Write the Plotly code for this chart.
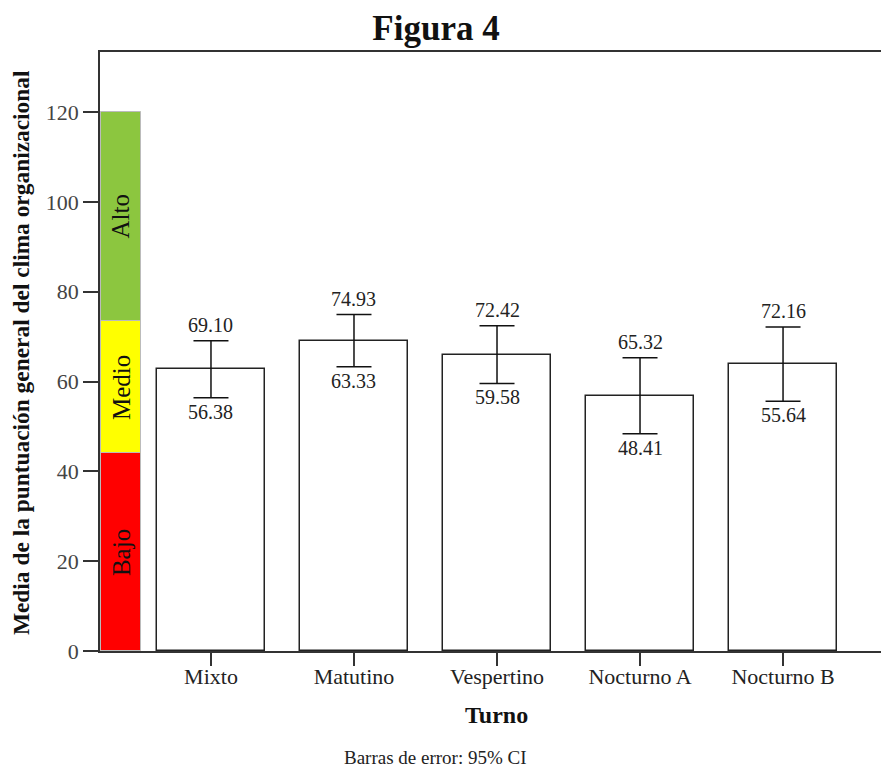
import plotly.graph_objects as go

categories = ["Mixto", "Matutino", "Vespertino", "Nocturno A", "Nocturno B"]
means = [62.74, 69.13, 66.00, 56.87, 63.90]
ci_upper = [69.10, 74.93, 72.42, 65.32, 72.16]
ci_lower = [56.38, 63.33, 59.58, 48.41, 55.64]

levels = ["Bajo", "Medio", "Alto"]
level_bounds = [0, 44, 73.5, 120]
level_colors = ["#ff0000", "#ffff00", "#8cc63f"]

y_ticks = [0, 20, 40, 60, 80, 100, 120]

FONT = "Liberation Serif"
positions = list(range(1, len(categories) + 1))
band_x = 0.37

fig = go.Figure()

# Colored level band
for i, lab in enumerate(levels):
    lo, hi = level_bounds[i], level_bounds[i + 1]
    fig.add_trace(go.Bar(
        x=[band_x], y=[hi - lo], base=[lo], width=0.28,
        marker=dict(color=level_colors[i], line=dict(color="#bbbbbb", width=1)),
        hoverinfo="skip", showlegend=False,
    ))
    fig.add_annotation(x=band_x, y=(lo + hi) / 2, text=lab, showarrow=False,
                       textangle=-90, xanchor="center", yanchor="middle",
                       font=dict(family=FONT, size=25, color="#111111"))

# Mean bars with 95% CI
fig.add_trace(go.Bar(
    x=positions, y=means, width=0.75,
    marker=dict(color="white", line=dict(color="#222222", width=1.5)),
    error_y=dict(
        type="data", symmetric=False,
        array=[u - m for u, m in zip(ci_upper, means)],
        arrayminus=[m - l for l, m in zip(ci_lower, means)],
        color="#111111", thickness=1.5, width=17.5,
    ),
    showlegend=False,
))

for p, u, l in zip(positions, ci_upper, ci_lower):
    fig.add_annotation(x=p, y=u, text=f"{u:.2f}", showarrow=False, yanchor="bottom",
                       yshift=3, font=dict(family=FONT, size=20, color="#222222"))
    fig.add_annotation(x=p, y=l, text=f"{l:.2f}", showarrow=False, yanchor="top",
                       yshift=-1, font=dict(family=FONT, size=20, color="#222222"))

W, H = 881, 767
fig.update_layout(
    width=W, height=H,
    margin=dict(l=100, r=0, t=52, b=116),
    paper_bgcolor="white", plot_bgcolor="white",
    barmode="overlay", bargap=0,
    title=dict(text="<b>Figura 4</b>", x=436 / W, xanchor="center", y=1 - 28 / H, yref="container",
               yanchor="middle", font=dict(family=FONT, size=35, color="#111111")),
    font=dict(family=FONT, color="#222222"),
)

fig.update_xaxes(
    range=[0.224, 5.685], tickvals=positions, ticktext=categories,
    showgrid=False, zeroline=False, automargin=False,
    showline=True, linecolor="#333333", linewidth=1.5, mirror=True,
    ticks="outside", ticklen=13, tickwidth=1.5, tickcolor="#333333",
    ticklabelstandoff=-8,
    tickfont=dict(family=FONT, size=22, color="#222222"),
)
fig.update_yaxes(
    range=[0, 133.4], tickvals=y_ticks,
    showgrid=False, zeroline=False, automargin=False,
    showline=True, linecolor="#333333", linewidth=1.5,
    ticks="outside", ticklen=15, tickwidth=1.5, tickcolor="#333333",
    tickfont=dict(family=FONT, size=22, color="#444444"),
)

# Axis titles and footnote
fig.add_annotation(text="<b>Media de la puntuación general del clima organizacional</b>",
                   xref="paper", yref="paper", x=-0.101, y=0.4975, textangle=-90,
                   showarrow=False, xanchor="center", yanchor="middle",
                   font=dict(family=FONT, size=23.4, color="#111111"))
fig.add_annotation(text="<b>Turno</b>", xref="paper", yref="paper", x=0.508, y=-0.107,
                   showarrow=False, xanchor="center", yanchor="middle",
                   font=dict(family=FONT, size=24, color="#111111"))
fig.add_annotation(text="Barras de error: 95% CI", xref="paper", yref="paper",
                   x=0.429, y=-0.177, showarrow=False, xanchor="center", yanchor="middle",
                   font=dict(family=FONT, size=19, color="#222222"))

fig.write_html("out.html", config={"displayModeBar": False},
               post_script="document.body.style.margin='0';document.body.style.overflow='hidden';")
